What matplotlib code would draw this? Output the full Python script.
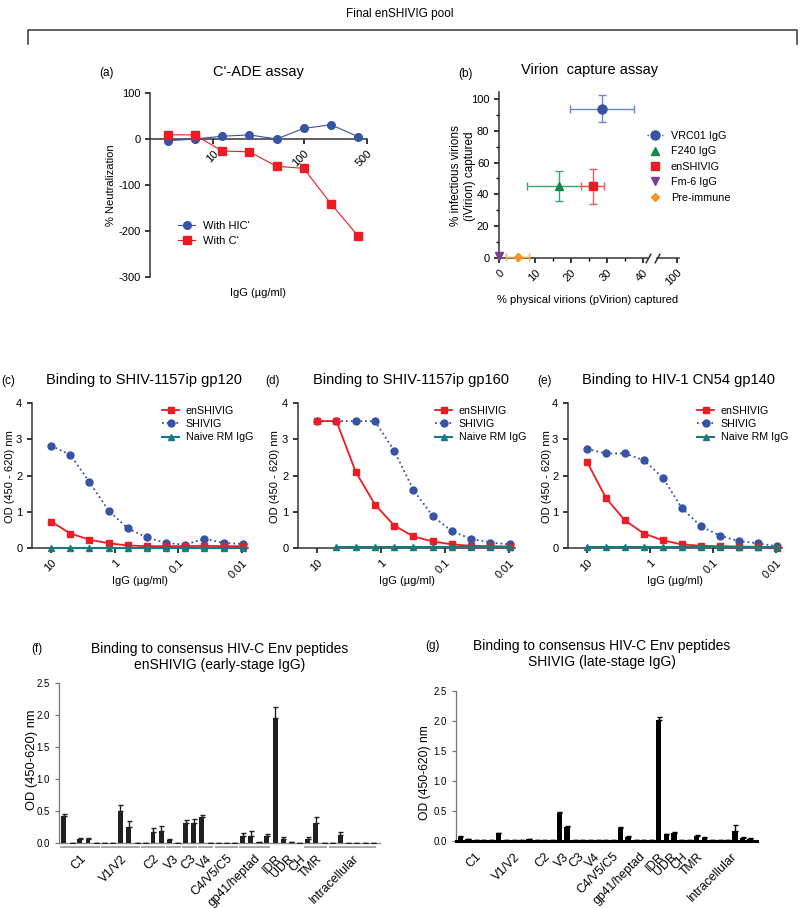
import numpy as np
import matplotlib.pyplot as plt
from matplotlib.lines import Line2D
from matplotlib.ticker import MultipleLocator, NullLocator
import matplotlib.transforms as mtransforms

plt.rcParams['font.family'] = ['Liberation Sans', 'DejaVu Sans']
plt.rcParams['font.size'] = 8
plt.rcParams['axes.unicode_minus'] = False
plt.rcParams['xtick.labelsize'] = 8
plt.rcParams['ytick.labelsize'] = 8
plt.rcParams['axes.linewidth'] = 1.1
plt.rcParams['xtick.major.width'] = 1.1
plt.rcParams['ytick.major.width'] = 1.1
plt.rcParams['xtick.minor.width'] = 1.0
plt.rcParams['ytick.minor.width'] = 1.0
plt.rcParams['xtick.major.size'] = 3.5
plt.rcParams['ytick.major.size'] = 3.5
plt.rcParams['xtick.minor.size'] = 2.2
plt.rcParams['ytick.minor.size'] = 2.2
plt.rcParams['axes.edgecolor'] = '#333333'

# ---- data ----
# (a) C'-ADE assay
ade_conc = [3.125, 6.25, 12.5, 25, 50, 100, 200, 400]
ade_hic = [-4, 0, 6, 9, 0, 23, 31, 5]
ade_c = [9, 9, -26, -28, -59, -64, -141, -211]

# (b) virion capture
cap_names = ['VRC01 IgG', 'F240 IgG', 'enSHIVIG', 'Fm-6 IgG', 'Pre-immune']
cap_pvirion = [28.7, 16.8, 26.0, 0.0, 5.2]
cap_pvirion_err = [8.9, 9.0, 3.3, 0.0, 3.2]
cap_ivirion = [94, 45.5, 45, 1, 0.5]
cap_ivirion_err = [8.5, 9.5, 11, 0, 0]

# (c)-(e) ELISA binding
conc = [10, 5, 2.5, 1.25, 0.625, 0.3125, 0.156, 0.078, 0.039, 0.0195, 0.0098]
gp120_en = [0.73, 0.40, 0.23, 0.13, 0.07, 0.05, 0.05, 0.05, 0.06, 0.05, 0.05]
gp120_shivig = [2.82, 2.57, 1.82, 1.03, 0.54, 0.29, 0.14, 0.09, 0.26, 0.14, 0.11]
gp120_naive = [0.01, 0.01, 0.01, 0.01, 0.01, 0.01, 0.01, 0.01, 0.01, 0.01, 0.01]
gp160_en = [3.5, 3.5, 2.1, 1.2, 0.62, 0.32, 0.18, 0.10, 0.06, 0.05, 0.04]
gp160_shivig = [3.5, 3.5, 3.5, 3.5, 2.68, 1.6, 0.88, 0.46, 0.25, 0.15, 0.10]
gp160_naive = [np.nan, 0.02, 0.02, 0.02, 0.02, 0.02, 0.02, 0.02, 0.02, 0.02, 0.02]
gp140_en = [2.38, 1.38, 0.76, 0.40, 0.21, 0.10, 0.06, 0.05, 0.04, 0.03, 0.01]
gp140_shivig = [2.73, 2.61, 2.61, 2.42, 1.94, 1.10, 0.60, 0.34, 0.19, 0.13, 0.05]
gp140_naive = [0.02, 0.02, 0.02, 0.02, 0.02, 0.02, 0.02, 0.02, 0.02, 0.02, 0.02]

# (f)-(g) peptide binding, 39 peptides
regions = ['C1', 'V1/V2', 'C2', 'V3', 'C3', 'V4', 'C4/V5/C5', 'gp41/heptad',
           'IDR', 'UDR', 'CH', 'TMR', 'Intracellular']
region_size = [5, 5, 3, 2, 2, 2, 3, 4, 1, 2, 1, 3, 6]
region_line = [True, True, True, True, True, True, True, True, False, False, False, True, True]
early_od = [0.42, 0, 0.07, 0.07, 0, 0, 0, 0.50, 0.245, 0, 0, 0.17, 0.19, 0.05, 0,
            0.31, 0.31, 0.41, 0, 0, 0, 0, 0.11, 0.11, 0.01, 0.11, 1.95, 0.06, 0.01,
            0, 0.07, 0.31, 0, 0, 0.125, 0, 0, 0, 0]
early_err = [0.03, 0, 0.01, 0.01, 0, 0, 0, 0.10, 0.10, 0, 0, 0.07, 0.08, 0.01, 0,
             0.05, 0.07, 0.02, 0, 0, 0, 0, 0.04, 0.08, 0, 0.03, 0.18, 0.03, 0,
             0, 0.03, 0.09, 0, 0, 0.04, 0, 0, 0, 0]
late_od = [0.07, 0.03, 0.01, 0.01, 0.02, 0.13, 0.01, 0.01, 0.02, 0.03, 0.02, 0.01, 0.01,
           0.47, 0.24, 0.01, 0.01, 0.01, 0.01, 0.01, 0.02, 0.22, 0.07, 0.02, 0.01, 0.01,
           2.02, 0.11, 0.14, 0.02, 0.01, 0.09, 0.05, 0.01, 0.02, 0.01, 0.16, 0.05, 0.04]
late_err = [0.01, 0, 0, 0, 0, 0.01, 0, 0, 0, 0, 0, 0, 0,
            0.02, 0.01, 0, 0, 0, 0, 0, 0, 0.01, 0.01, 0, 0, 0,
            0.04, 0.01, 0.01, 0, 0, 0.01, 0.01, 0, 0, 0, 0.11, 0.01, 0.01]

RED = '#EC1C24'
BLUE = '#3653A4'
TEAL = '#167A80'

W, H = 800, 908
fig = plt.figure(figsize=(W / 100, H / 100), dpi=100)


def box(l, t, r, b):
    return fig.add_axes([l / W, 1 - b / H, (r - l) / W, (b - t) / H])


def ftext(x, y, s, **kw):
    kw.setdefault('ha', 'center')
    kw.setdefault('va', 'center')
    fig.text(x / W, 1 - y / H, s, **kw)


def clean(ax):
    ax.spines[['top', 'right']].set_visible(False)


# ---- top bracket ----
ftext(400, 14, 'Final enSHIVIG pool', fontsize=8.5)
fig.add_artist(Line2D([28 / W, 28 / W, 797 / W, 797 / W],
                      [1 - 44 / H, 1 - 30 / H, 1 - 30 / H, 1 - 44 / H],
                      transform=fig.transFigure, color='#444444', lw=1.2))

# ---- (a) ----
ax = box(150, 93, 367, 277)
ax.plot(ade_conc, ade_hic, '-o', color=BLUE, lw=0.8, ms=5.5, label="With HIC'",
        clip_on=False, zorder=3)
ax.plot(ade_conc, ade_c, '-s', color=RED, lw=0.8, ms=5.5, label="With C'",
        clip_on=False, zorder=3)
ax.set_xscale('log')
ax.set_xlim(2, 500)
ax.set_ylim(-300, 100)
clean(ax)
ax.spines['bottom'].set_position(('data', 0))
ax.set_xticks([10, 100, 500])
ax.set_xticklabels(['10', '100', '500'], rotation=45, ha='right', rotation_mode='anchor')
ax.xaxis.set_minor_locator(NullLocator())
ax.set_yticks([-300, -200, -100, 0, 100])
ax.text(0.5, -0.087, 'IgG (µg/ml)', transform=ax.transAxes, ha='center', va='center', fontsize=8)
ax.legend(loc='center left', bbox_to_anchor=(0.13, 0.239), frameon=False, fontsize=8,
          borderpad=0, borderaxespad=0, handlelength=1.5, handletextpad=0.7, labelspacing=0.45)
ftext(111, 185, '% Neutralization', rotation=90, fontsize=8)
ftext(258, 72, "C'-ADE assay", fontsize=10.5)
ftext(107, 73, '(a)', fontsize=8.5)

# ---- (b) ----
axb = box(499, 92, 648, 258)
axb2 = box(657, 92, 679, 258)
cap_colors = [BLUE, '#13894A', RED, '#7D3C98', '#F7941D']
cap_err_colors = ['#6C86CC', '#3BA56B', '#EF5A60', '#9B6BB5', '#F7A84A']
cap_markers = ['o', '^', 's', 'v', 'D']
cap_ms = [6.5, 6, 6, 6, 4.5]
for i in range(len(cap_names)):
    xe = cap_pvirion_err[i] if cap_pvirion_err[i] > 0 else None
    ye = cap_ivirion_err[i] if cap_ivirion_err[i] > 0 else None
    axb.errorbar(cap_pvirion[i], cap_ivirion[i], xerr=xe, yerr=ye, fmt=cap_markers[i],
                 color=cap_colors[i], ecolor=cap_err_colors[i], ms=cap_ms[i], elinewidth=1,
                 capsize=3, capthick=1, clip_on=False, zorder=3)
axb.set_xlim(0, 41.4)
axb.set_ylim(0, 104.4)
clean(axb)
axb.set_xticks([0, 10, 20, 30, 40])
axb.set_xticklabels(['0', '10', '20', '30', '40'], rotation=45, ha='right', rotation_mode='anchor')
axb.xaxis.set_minor_locator(MultipleLocator(5))
axb.set_yticks([0, 20, 40, 60, 80, 100])
axb.yaxis.set_minor_locator(MultipleLocator(10))
axb2.set_xlim(90, 101)
axb2.set_ylim(0, 104.4)
axb2.spines[['top', 'right', 'left']].set_visible(False)
axb2.set_yticks([])
axb2.set_xticks([100])
axb2.set_xticklabels(['100'], rotation=45, ha='right', rotation_mode='anchor')
axb2.patch.set_alpha(0)
brk = dict(marker=[(-1, -1.8), (1, 1.8)], markersize=7, linestyle='none', color='#333333',
           mec='#333333', mew=1.1, clip_on=False)
axb.plot([1], [0], transform=axb.transAxes, **brk)
axb2.plot([0], [0], transform=axb2.transAxes, **brk)
handles = []
for i in range(len(cap_names)):
    handles.append(Line2D([], [], color=cap_colors[i], marker=cap_markers[i], ms=cap_ms[i],
                          linestyle=':' if i == 0 else 'none', lw=1))
fig.legend(handles, cap_names, loc='upper left', bbox_to_anchor=(647 / W, 1 - 131 / H),
           frameon=False, fontsize=7.8, borderpad=0, borderaxespad=0, handlelength=1.5,
           handletextpad=0.7, labelspacing=0.5)
ftext(463, 176, '% infectious virions\n(iVirion) captured', rotation=90, fontsize=8.5,
      linespacing=1.25)
ftext(588, 300, '% physical virions (pVirion) captured', fontsize=8)
ftext(590, 70, 'Virion  capture assay', fontsize=10.5)
ftext(465, 74, '(b)', fontsize=8.5)

# ---- (c)-(e) ----
elisa = [
    (32, 248, gp120_en, gp120_shivig, gp120_naive, 'Binding to SHIV-1157ip gp120', '(c)', 8, 10),
    (298, 515, gp160_en, gp160_shivig, gp160_naive, 'Binding to SHIV-1157ip gp160', '(d)', 273, 275),
    (568, 782, gp140_en, gp140_shivig, gp140_naive, 'Binding to HIV-1 CN54 gp140', '(e)', 545, 547),
]
for left, right, en, shiv, naive, title, tag, tagx, ylx in elisa:
    ax = box(left, 403, right, 548)
    ax.plot(conc, shiv, linestyle=':', marker='o', color=BLUE, lw=1.3, ms=5, label='SHIVIG',
            clip_on=False, zorder=3)
    ax.plot(conc, en, '-s', color=RED, lw=1.3, ms=5, label='enSHIVIG', clip_on=False, zorder=4)
    ax.plot(conc, naive, '-^', color=TEAL, lw=1.5, ms=5, label='Naive RM IgG', clip_on=False,
            zorder=5)
    ax.set_xscale('log')
    ax.set_xlim(20, 0.00805)
    ax.set_ylim(0, 4)
    clean(ax)
    ax.set_xticks([10, 1, 0.1, 0.01])
    ax.set_xticklabels(['10', '1', '0.1', '0.01'], rotation=45, ha='right', rotation_mode='anchor')
    ax.xaxis.set_minor_locator(NullLocator())
    ax.set_yticks([0, 1, 2, 3, 4])
    h, l = ax.get_legend_handles_labels()
    order = [1, 0, 2]
    leg_x = {32: 162, 298: 435, 568: 697}[left]
    ax.legend([h[k] for k in order], [l[k] for k in order], loc='upper left',
              bbox_to_anchor=((leg_x - left) / (right - left), 1.0 - 3 / 145), frameon=False,
              fontsize=7.7, borderpad=0, borderaxespad=0, handlelength=1.6,
              handletextpad=0.6, labelspacing=0.3)
    cx = (left + right) / 2
    ftext(cx, 581, 'IgG (µg/ml)', fontsize=8)
    ftext(ylx, 477, 'OD (450 - 620) nm', rotation=90, fontsize=8)
    ftext(cx + 4, 380, title, fontsize=10.5)
    ftext(tagx, 381, tag, fontsize=8.5)

# ---- (f)-(g) ----
idx = np.arange(len(early_od))
starts = np.cumsum([0] + region_size[:-1])
ends = starts + np.array(region_size) - 1
centers = (starts + ends) / 2.0

peptide = [
    (59, 683, 380, 843, early_od, early_err, 0.6, '#231F20', '#8A8A8A', 1.0,
     'Binding to consensus HIV-C Env peptides\nenSHIVIG (early-stage IgG)', 220, 657, '(f)', 37, 649,
     32, 760, True, 9.3, 6.9),
    (456, 691, 757, 841, late_od, late_err, 0.7, '#000000', '#000000', 2.2,
     'Binding to consensus HIV-C Env peptides\nSHIVIG (late-stage IgG)', 602, 654, '(g)', 432, 646,
     425, 773, False, 8.7, 6.9),
]
for (l, t, r, b, od, err, bw, barc, axc, axlw, title, tx, ty, tag, tagx, tagy,
     ylx, yly, lines, ylfs, tkfs) in peptide:
    ax = box(l, t, r, b)
    ax.bar(idx, od, width=bw, color=barc, yerr=[np.zeros(len(err)), err],
           error_kw=dict(ecolor=barc, elinewidth=1, capsize=1.8, capthick=1), zorder=3)
    ax.set_xlim(-0.56, len(od) - 1 + 0.9)
    ax.set_ylim(0, 2.5)
    clean(ax)
    ax.spines['left'].set_color('#777777')
    ax.spines['left'].set_linewidth(0.9)
    ax.spines['bottom'].set_color(axc)
    ax.spines['bottom'].set_linewidth(axlw)
    ax.set_yticks([0, 0.5, 1.0, 1.5, 2.0, 2.5])
    ax.set_yticklabels(['0.0', '0.5', '1.0', '1.5', '2.0', '2.5'], fontsize=tkfs)
    ax.tick_params(axis='y', color='#777777', width=0.9, length=3)
    ax.set_xticks(centers)
    ax.set_xticklabels(regions, rotation=45, ha='right', rotation_mode='anchor', fontsize=8.8)
    ax.tick_params(axis='x', length=0, pad=7)
    if lines:
        tr = mtransforms.blended_transform_factory(ax.transData, ax.transAxes)
        for s, e, on in zip(starts, ends, region_line):
            if on:
                ax.plot([s - 0.42, e + 0.42], [-0.022, -0.022], transform=tr, color='#9A9A9A',
                        lw=1.2, clip_on=False, solid_capstyle='butt')
    ftext(ylx, yly, 'OD (450-620) nm', rotation=90, fontsize=ylfs)
    ftext(tx, ty, title, fontsize=10, linespacing=1.15)
    ftext(tagx, tagy, tag, fontsize=8.5)

fig.savefig('out.png', dpi=100)
